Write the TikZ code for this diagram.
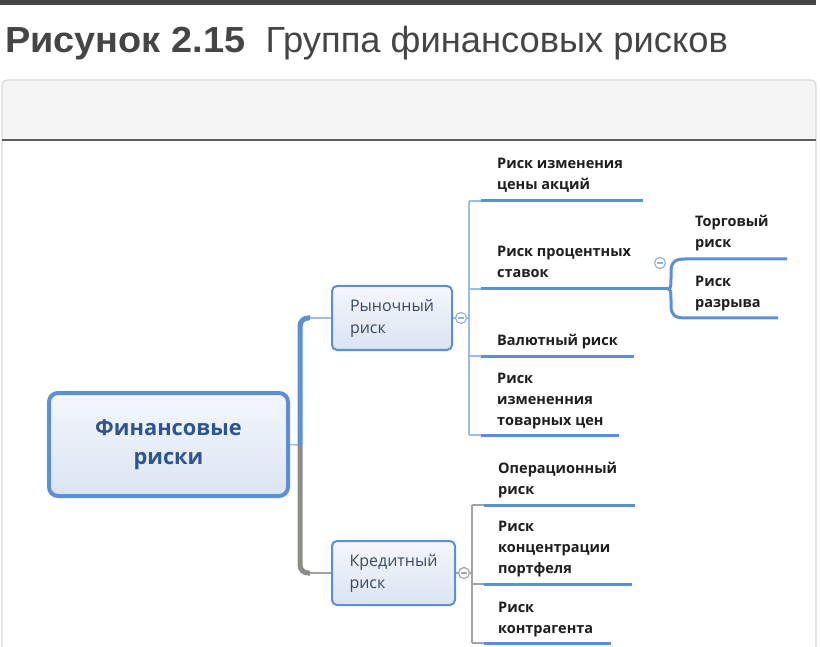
\documentclass[tikz,border=0pt]{standalone}
\usepackage{graphicx}
\usepackage{fontspec}
\setmainfont{Liberation Sans}
\newfontfamily\osans{Open Sans}
\definecolor{mblue}{HTML}{5B8FD6}
\definecolor{lblue}{HTML}{9DBCE8}
\definecolor{ggray}{HTML}{8C8C86}
\definecolor{lgray}{HTML}{A3A3A3}
\definecolor{titlegray}{HTML}{454545}
\definecolor{fintext}{HTML}{2F558F}
\definecolor{topictext}{HTML}{3A4866}
\definecolor{leaftext}{HTML}{1E1E1E}
\definecolor{panelborder}{HTML}{DADADA}
\definecolor{headergray}{HTML}{F5F5F5}
\definecolor{rulegray}{HTML}{5E5E5E}
\definecolor{boxtop}{HTML}{F4F7FC}
\definecolor{boxbot}{HTML}{DAE4F2}
\tikzset{
  finbox/.style={draw=mblue, line width=4pt, rounded corners=9pt, top color=boxtop, bottom color=boxbot,
    minimum width=239pt, minimum height=103pt, align=center, text=fintext,
    font=\osans\bfseries\fontsize{21.8}{29}\selectfont},
  topicbox/.style={draw=mblue, line width=2pt, rounded corners=5pt, top color=boxtop, bottom color=boxbot,
    minimum width=120pt, minimum height=64pt, align=left, text=topictext,
    font=\osans\fontsize{16}{22}\selectfont},
  leaf/.style={anchor=base west, inner sep=0pt, align=left, text=leaftext,
    font=\osans\bfseries\fontsize{14.5}{21}\selectfont},
  collapse/.style={circle, minimum size=11pt, inner sep=0pt, line width=1.2pt, fill=white},
  thinblue/.style={draw=lblue, line width=1.5pt},
  thingray/.style={draw=lgray, line width=1.5pt},
  uline/.style={draw=mblue, line width=3pt},
}
\begin{document}
\begin{tikzpicture}[x=1pt,y=-1pt]
\useasboundingbox (0,0) rectangle (820,647);
\begin{scope}
\clip (0,0) rectangle (820,647);
% top bar and title
\fill[titlegray] (0,0) rectangle (816,5);
\node[anchor=base west, inner sep=0pt, text=titlegray, font=\fontsize{36.3}{40}\selectfont] (title) at (5,53)
  {\scalebox{1.044}[1]{\textbf{Рисунок 2.15}}\hspace{0.56em}Группа финансовых рисков};
% panel
\fill[white, rounded corners=5pt] (2,80) rectangle (816,700);
\begin{scope}
  \clip[rounded corners=5pt] (2,80) rectangle (816,700);
  \fill[headergray] (2,80) rectangle (816,140);
\end{scope}
\draw[panelborder, line width=1.2pt, rounded corners=5pt] (2,80) rectangle (816,700);
\draw[rulegray, line width=2pt] (2,140) -- (816,140);

% main nodes
\node[finbox] (fin) at (168.5,444.5) {Финансовые\\риски};
\node[topicbox] (rm) at (392,318) {Рыночный\\риск};
\node[topicbox, minimum width=123pt] (kr) at (393.5,573) {Кредитный\\риск};

% trunk
\coordinate (j) at (300,445);
\coordinate (jm) at (310,318);
\coordinate (jk) at (310,573);
\draw[thinblue] (fin.east) -- (j);
\draw[mblue, line width=5pt, rounded corners=8pt] (j) |- (jm);
\draw[thinblue] (jm) -- (rm.west);
\draw[ggray, line width=5pt, rounded corners=8pt] (j) |- (jk);
\draw[draw=ggray!80, line width=1.5pt] (jk) -- (kr.west);

% market branch
\coordinate (mbm) at (469,318);
\coordinate (mb1) at (469,201);
\coordinate (mb2) at (469,289);
\coordinate (mb3) at (469,356);
\coordinate (mb4) at (469,435);
\draw[thinblue] (mb1) -- (mb4);
\node[collapse, draw=lblue!80!mblue] (c1) at (461,318) {};
\draw[lblue!80!mblue, line width=1.2pt] ([xshift=2.8pt]c1.west) -- ([xshift=-2.8pt]c1.east);
\draw[thinblue] (rm.east) -- (c1.west);
\draw[thinblue] (c1.east) -- (mbm);
\coordinate (u1s) at (481,201); \coordinate (u1e) at (643,201);
\coordinate (u2s) at (481,289); \coordinate (u2e) at (668,289);
\coordinate (u3s) at (481,356); \coordinate (u3e) at (634,356);
\coordinate (u4s) at (481,435); \coordinate (u4e) at (619,435);
\draw[thinblue] (mb1) -- (u1s);
\draw[thinblue] (mb2) -- (u2s);
\draw[thinblue] (mb3) -- (u3s);
\draw[thinblue] (mb4) -- (u4s);
\draw[uline] (u1s) -- (u1e);
\draw[uline] (u2s) -- (u2e);
\draw[uline] (u3s) -- (u3e);
\draw[uline] (u4s) -- (u4e);
\node[leaf] (l1) at (497,190) {Риск изменения\\цены акций};
\node[leaf] (l2) at (497,278) {Риск процентных\\ставок};
\node[leaf] (l3) at (497,345) {Валютный риск};
\node[leaf] (l4) at (497,425) {Риск\\измененния\\товарных цен};

% interest sub-branch
\node[collapse, draw=lblue!80!mblue] (c2) at (660,263) {};
\draw[lblue!80!mblue, line width=1.2pt] ([xshift=2.8pt]c2.west) -- ([xshift=-2.8pt]c2.east);
\coordinate (s1e) at (787,259);
\coordinate (s2e) at (778,318);
\draw[uline] (u2e) .. controls (671,289) and (671,285) .. (671,278) -- (671,272)
  .. controls (671,262) and (675,259) .. (685,259) -- (s1e);
\draw[uline] (u2e) .. controls (671,289) and (671,293) .. (671,300) -- (671,306)
  .. controls (671,315) and (675,318) .. (685,318) -- (s2e);
\node[leaf] (s1) at (695,248) {Торговый\\риск};
\node[leaf] (s2) at (695,308) {Риск\\разрыва};

% credit branch
\coordinate (kbm) at (472,573);
\coordinate (kb1) at (472,505);
\coordinate (kb2) at (472,584);
\coordinate (kb3) at (472,643);
\draw[thingray] (kb1) -- (kb3);
\node[collapse, draw=lgray] (c3) at (464,573) {};
\draw[lgray, line width=1.2pt] ([xshift=2.8pt]c3.west) -- ([xshift=-2.8pt]c3.east);
\draw[thingray] (kr.east) -- (c3.west);
\draw[thingray] (c3.east) -- (kbm);
\coordinate (v1s) at (484,505); \coordinate (v1e) at (635,505);
\coordinate (v2s) at (484,584); \coordinate (v2e) at (632,584);
\coordinate (v3s) at (484,643); \coordinate (v3e) at (611,643);
\draw[thingray] (kb1) -- (v1s);
\draw[thingray] (kb2) -- (v2s);
\draw[thingray] (kb3) -- (v3s);
\draw[uline] (v1s) -- (v1e);
\draw[uline] (v2s) -- (v2e);
\draw[uline] (v3s) -- (v3e);
\node[leaf] (k1) at (498,494) {Операционный\\риск};
\node[leaf] (k2) at (498,573) {Риск\\концентрации\\портфеля};
\node[leaf] (k3) at (498,633) {Риск\\контрагента};
\end{scope}
\end{tikzpicture}
\end{document}
